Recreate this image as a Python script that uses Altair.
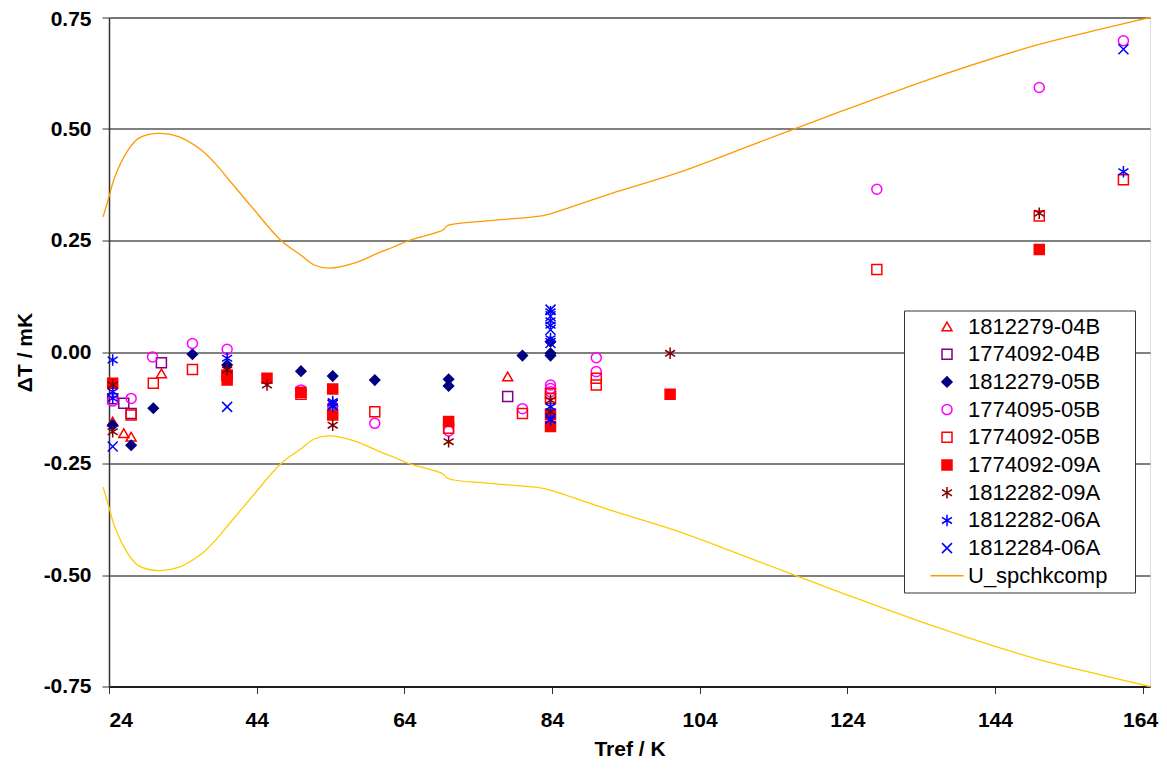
import altair as alt
import pandas as pd

FONT = "Liberation Sans"

series_names = ["1812279-04B", "1774092-04B", "1812279-05B", "1774095-05B", "1774092-05B",
                "1774092-09A", "1812282-09A", "1812282-06A", "1812284-06A", "U_spchkcomp"]

# data per series (Tref / K, dT / mK)
s1_x = [24.5, 26, 27, 31.1, 78]
s1_y = [-0.156, -0.182, -0.19, -0.048, -0.055]
s2_x = [24.5, 26, 27, 31.1, 78]
s2_y = [-0.105, -0.115, -0.138, -0.024, -0.100]
s3_x = [24.5, 27, 30, 35.3, 40, 50, 54.3, 60, 70, 70, 80, 83.8, 83.8, 83.8]
s3_y = [-0.164, -0.209, -0.126, -0.005, -0.029, -0.043, -0.054, -0.063, -0.061, -0.076, -0.008, 0.023, -0.003, -0.008]
s4_x = [24.5, 27, 29.9, 35.3, 40, 50, 54.3, 60, 70, 80, 83.8, 83.8, 83.8, 90, 90, 128, 150, 161.4]
s4_y = [-0.11, -0.104, -0.011, 0.019, 0.006, -0.085, -0.121, -0.160, -0.177, -0.127, -0.074, -0.082, -0.089,
        -0.013, -0.044, 0.365, 0.593, 0.698]
s5_x = [27, 30, 35.3, 40, 50, 60, 70, 80, 83.8, 83.8, 90, 90, 128, 150, 161.4]
s5_y = [-0.141, -0.070, -0.039, -0.052, -0.095, -0.134, -0.171, -0.138, -0.093, -0.104, -0.059, -0.074,
        0.185, 0.305, 0.386]
s6_x = [24.5, 40, 40, 45.4, 50, 54.3, 54.3, 70, 83.8, 83.8, 100, 150]
s6_y = [-0.070, -0.052, -0.063, -0.059, -0.090, -0.083, -0.141, -0.156, -0.167, -0.140, -0.095, 0.230]
s7_x = [24.5, 24.5, 40, 45.4, 54.3, 54.3, 70, 83.8, 83.8, 100, 150]
s7_y = [-0.074, -0.179, -0.040, -0.074, -0.164, -0.115, -0.201, -0.108, -0.134, -0.003, 0.311]
s8_x = [24.5, 24.5, 24.5, 40, 54.3, 54.3, 83.8, 83.8, 83.8, 83.8, 83.8, 83.8, 161.4]
s8_y = [-0.018, -0.089, -0.104, -0.014, -0.111, -0.123, 0.09, 0.07, 0.06, 0.03, -0.123, -0.152, 0.404]
s9_x = [24.5, 40, 54.3, 83.8, 83.8, 83.8, 83.8, 83.8, 161.4]
s9_y = [-0.212, -0.123, -0.118, 0.095, 0.08, 0.05, 0.02, -0.15, 0.679]

# uncertainty curve (upper branch; lower branch is its negative)
u_x = [23.2, 24.0, 24.8, 26.6, 28.0, 30.6, 33.4, 36.5, 38.8, 40.1, 43.3, 47.3, 50.0, 51.8, 53.8, 57.2,
       60.6, 62.6, 64.6, 69.3, 69.8, 76.0, 82.6, 84.0, 92.0, 101.1, 112.0, 122.6, 136.1, 149.6, 158.6, 165.0]
u_y = [0.303, 0.348, 0.393, 0.453, 0.479, 0.490, 0.483, 0.453, 0.415, 0.389, 0.326, 0.250, 0.217, 0.195,
       0.188, 0.199, 0.223, 0.236, 0.250, 0.274, 0.283, 0.295, 0.305, 0.311, 0.355, 0.402, 0.470, 0.536,
       0.617, 0.688, 0.725, 0.750]

xs = [s1_x, s2_x, s3_x, s4_x, s5_x, s6_x, s7_x, s8_x, s9_x]
ys = [s1_y, s2_y, s3_y, s4_y, s5_y, s6_y, s7_y, s8_y, s9_y]

pts = pd.concat([pd.DataFrame({"T": x, "dT": y, "series": n})
                 for x, y, n in zip(xs, ys, series_names[:9])], ignore_index=True)
curve = pd.DataFrame({"T": u_x, "U": u_y})

ASTER = "M0,-1.15L0,1.15M-1.0,-0.62L1.0,0.62M-1.0,0.62L1.0,-0.62"
XMARK = "M-1.0,-1.0L1.0,1.0M-1.0,1.0L1.0,-1.0"
LINE = "M-3.3,0L3.3,0"
shapes = ["triangle-up", "square", "diamond", "circle", "square", "square", ASTER, ASTER, XMARK, LINE]
strokes = ["#FF0000", "#800080", "#000080", "#FF00FF", "#FF0000", "#FF0000", "#800000", "#0000FF", "#0000FF", "#FF9900"]
fills = ["transparent", "transparent", "#000080", "transparent", "transparent", "#FF0000",
         "transparent", "transparent", "transparent", "transparent"]

PAD = "\u00a0\u2800"
leg = alt.Legend(title=None, orient="none", legendX=795, legendY=293, direction="vertical",
                 fillColor="white", strokeColor="#333333", padding=5,
                 labelFont=FONT, labelFontSize=22, labelColor="black", labelLimit=400,
                 symbolSize=100, symbolStrokeWidth=1.5, rowPadding=5.7,
                 symbolOffset=27, labelOffset=10,
                 labelExpr="datum.label + '" + PAD + "'")

xscale = alt.Scale(domain=[24, 165], nice=False, zero=False)
yscale = alt.Scale(domain=[-0.75, 0.75], nice=False, zero=False)

xaxis = alt.Axis(values=[24, 44, 64, 84, 104, 124, 144, 164], format="d", grid=False,
                 labelFont=FONT, labelFontSize=21, labelFontWeight="bold", labelColor="black",
                 labelOffset={"condition": {"test": "datum.value >= 160", "value": -2.5}, "value": 0},
                 labelPadding=16, tickSize=7, tickColor="#333333", domainColor="#000000", domainWidth=1.5,
                 title="Tref / K", titleFont=FONT, titleFontSize=21, titleFontWeight="bold",
                 titleColor="black", titleY=69, titleBaseline="alphabetic")
yaxis = alt.Axis(values=[-0.75, -0.5, -0.25, 0, 0.25, 0.5, 0.75],
                 labelExpr="replace(format(datum.value, '.2f'), '\u2212', '-')",
                 labelOffset={"condition": {"test": "datum.value >= 0.7", "value": 1.5}, "value": 0},
                 grid=True, gridColor="#000000", gridWidth=1, gridOpacity=1,
                 labelFont=FONT, labelFontSize=21, labelFontWeight="bold", labelColor="black",
                 labelPadding=11, tickSize=7, tickColor="#333333", domainColor="#333333", domainWidth=1.5,
                 title="\u0394T / mK", titleFont=FONT, titleFontSize=21, titleFontWeight="bold",
                 titleColor="black", titleX=-78, titleY=334.5, titleBaseline="alphabetic", titleAngle=-90)

upper = alt.Chart(curve).mark_line(color="#FF9900", strokeWidth=1.3, interpolate="catmull-rom", clip=False).encode(
    x=alt.X("T:Q", scale=xscale, axis=xaxis),
    y=alt.Y("U:Q", scale=yscale, axis=yaxis),
)
lower = alt.Chart(curve).transform_calculate(L="-datum.U").mark_line(
    color="#FFCC00", strokeWidth=1.3, interpolate="catmull-rom", clip=False).encode(
    x=alt.X("T:Q", scale=xscale),
    y=alt.Y("L:Q", scale=yscale),
)
points = alt.Chart(pts).mark_point(opacity=1, size=100, strokeWidth=1.5).encode(
    x=alt.X("T:Q", scale=xscale),
    y=alt.Y("dT:Q", scale=yscale),
    shape=alt.Shape("series:N", scale=alt.Scale(domain=series_names, range=shapes), legend=leg),
    stroke=alt.Stroke("series:N", scale=alt.Scale(domain=series_names, range=strokes), legend=leg),
    fill=alt.Fill("series:N", scale=alt.Scale(domain=series_names, range=fills), legend=leg),
)

chart = alt.layer(upper, lower, points).properties(
    width=1041, height=669,
    autosize=alt.AutoSizeParams(type="none"),
    padding={"left": 101, "top": 9.5, "right": 9, "bottom": 74},
).configure_view(stroke="#808080", strokeWidth=1.5).configure(background="white")

chart.save("out.html", embed_options={"renderer": "svg", "actions": False})
